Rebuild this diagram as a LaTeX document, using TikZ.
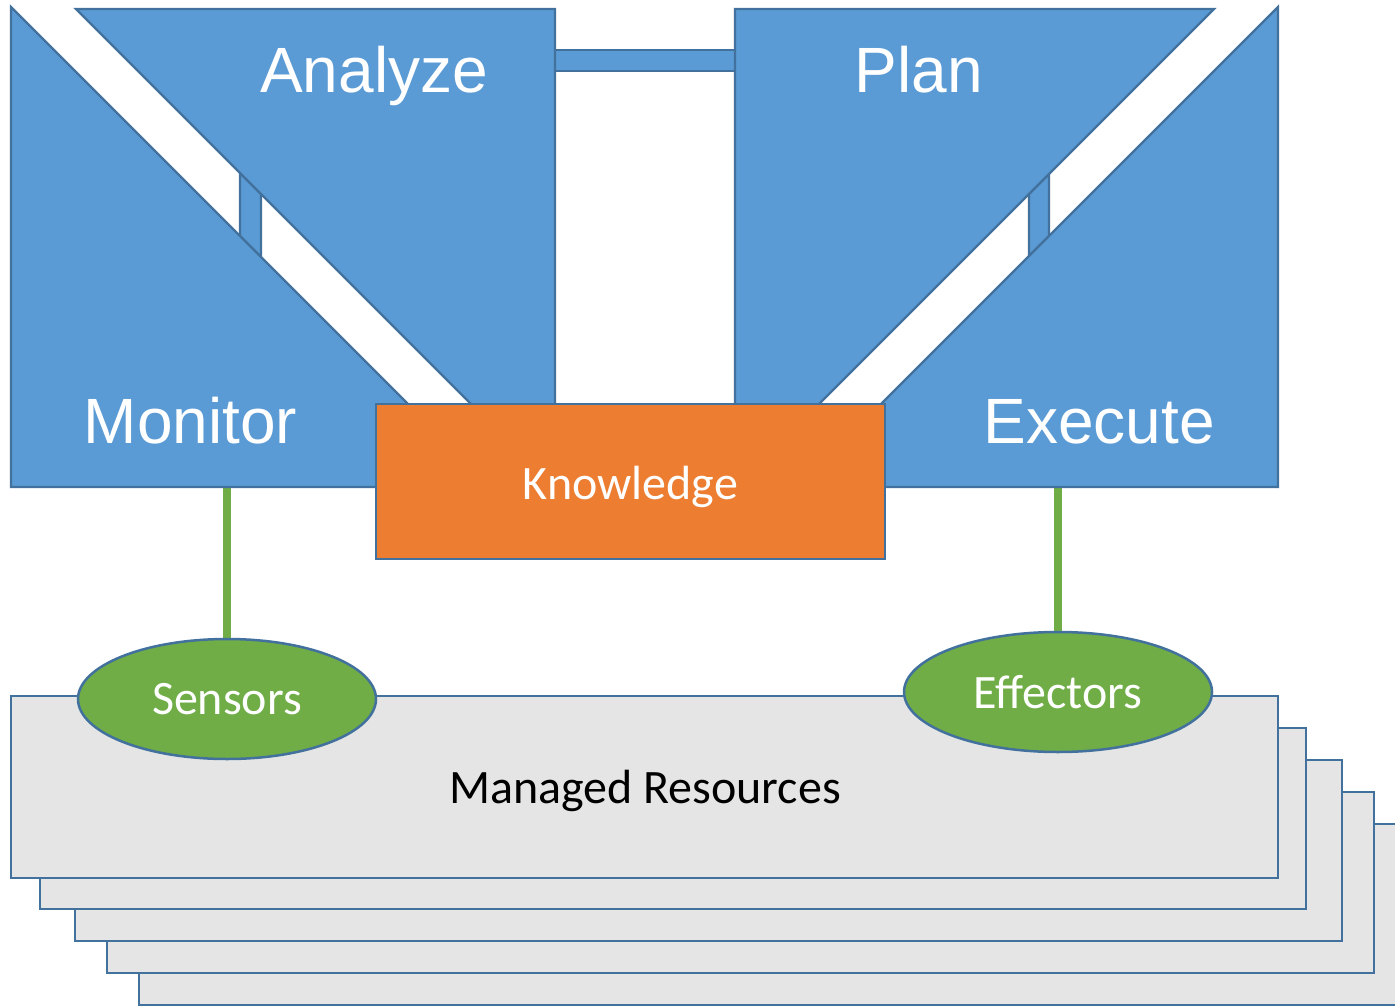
\documentclass[tikz,border=0pt]{standalone}
\usepackage{fontspec}
\setmainfont{Carlito}
\newfontfamily\arialf{Liberation Sans}
\usetikzlibrary{shapes.geometric}
\definecolor{mblue}{HTML}{5B9BD5}
\definecolor{mborder}{HTML}{41719C}
\definecolor{morange}{HTML}{ED7D31}
\definecolor{mgreen}{HTML}{70AD47}
\definecolor{mgrey}{HTML}{E5E5E5}
\pgfdeclarelayer{bg}
\pgfdeclarelayer{links}
\pgfsetlayers{bg,links,main}
\begin{document}
\begin{tikzpicture}[x=1pt,y=-1pt,
  blueshape/.style={fill=mblue,draw=mborder,line width=2.2pt,line join=miter},
  resbox/.style={fill=mgrey,draw=mborder,line width=2.4pt},
  knowbox/.style={fill=morange,draw=mborder,line width=2.2pt},
  greenlink/.style={draw=mgreen,line width=8pt},
  ell/.style={ellipse,fill=mgreen,draw=mborder,line width=2.5pt,inner sep=0pt,
    minimum height=120pt,text=white,font=\fontsize{48}{48}\selectfont},
  biglabel/.style={anchor=base,text=white,inner sep=0pt,font=\arialf\fontsize{64}{64}\selectfont},
  smalllabel/.style={anchor=base,inner sep=0pt,font=\fontsize{48}{48}\selectfont}]
\clip (0,0) rectangle (1395,1006);
\begin{pgfonlayer}{bg}
\fill[white] (0,0) rectangle (1395,1006);
\end{pgfonlayer}
% managed resources stack (back to front)
\draw[resbox] (139,824) rectangle (1420,1005);
\draw[resbox] (107,792) rectangle (1374,973);
\draw[resbox] (75,760) rectangle (1342,941);
\draw[resbox] (40,728) rectangle (1306,909);
\draw[resbox] (11,696) rectangle (1278,878);
\node[smalllabel,text=black] (mr) at (645,803) {Managed Resources};
% anchor points on the loop shapes
\coordinate (monbot) at (227,487);
\coordinate (exebot) at (1058,487);
% sensors and effectors
\node[ell,minimum width=298pt] (sensors) at (227,699) {Sensors};
\node[ell,minimum width=308pt] (effectors) at (1058,692) {Effectors};
\begin{pgfonlayer}{links}
\draw[greenlink] (monbot) -- (sensors.north);
\draw[greenlink] (exebot) -- (effectors.north);
\end{pgfonlayer}
% connectors between loop stages
\draw[blueshape] (555,50) rectangle (735,71);
\draw[blueshape] (240,173) -- (261,194) -- (261,257) -- (240,236) -- cycle;
\draw[blueshape] (1029,194) -- (1049,174) -- (1049,236) -- (1029,256) -- cycle;
% loop stages
\draw[blueshape] (11,7) -- (11,487) -- (491,487) -- cycle;
\draw[blueshape] (76,9) -- (555,9) -- (555,488) -- cycle;
\draw[blueshape] (735,9) -- (1214,9) -- (735,488) -- cycle;
\draw[blueshape] (1278,7) -- (1278,487) -- (798,487) -- cycle;
% knowledge
\draw[knowbox] (376,404) rectangle (885,559);
\node[smalllabel,text=white] (know) at (630.5,499) {Knowledge};
% stage labels
\node[biglabel] (analyze) at (374,93) {Analyze};
\node[biglabel] (plan) at (919,93) {Plan};
\node[biglabel] (monitor) at (190.5,443) {Monitor};
\node[biglabel] (execute) at (1099,443) {Execute};
\end{tikzpicture}
\end{document}
